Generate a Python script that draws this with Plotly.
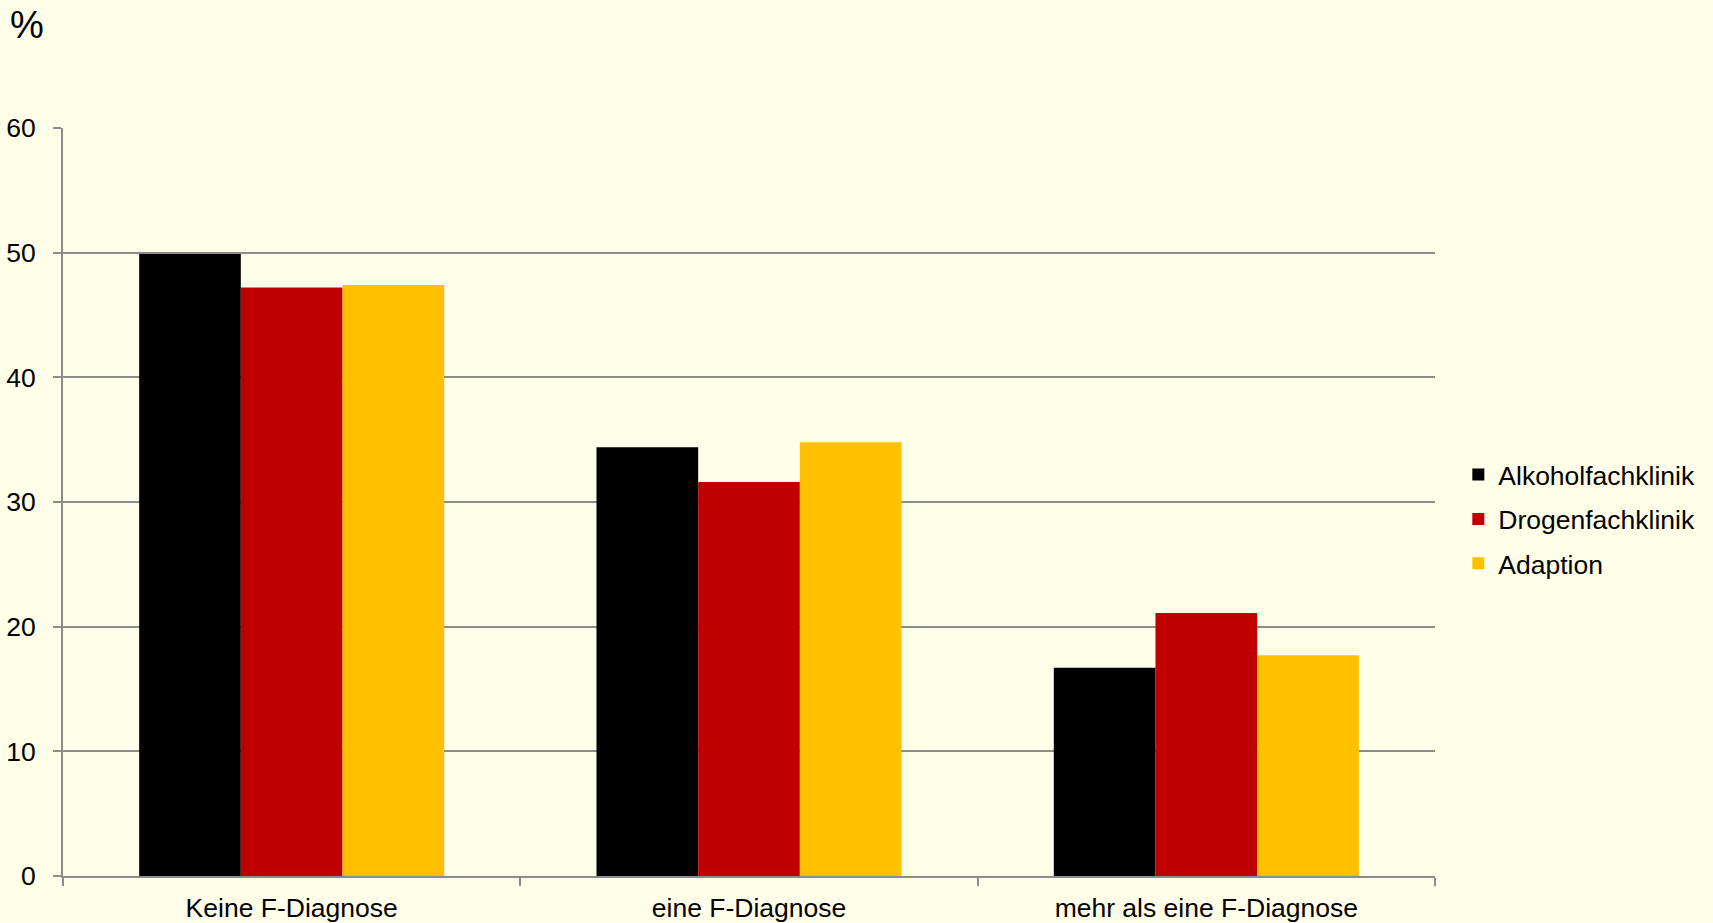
import plotly.graph_objects as go

categories = ["Keine F-Diagnose", "eine F-Diagnose", "mehr als eine F-Diagnose"]
series_names = ["Alkoholfachklinik", "Drogenfachklinik", "Adaption"]
alkohol = [49.9, 34.4, 16.7]
drogen = [47.2, 31.6, 21.1]
adaption = [47.4, 34.8, 17.7]
colors = ["#000000", "#C00000", "#FFC000"]
y_ticks = [0, 10, 20, 30, 40, 50, 60]

W, H = 1713, 923
L, R, T, B = 63, 1435, 127.5, 876

fig = go.Figure()
for i, (name, vals) in enumerate(zip(series_names, [alkohol, drogen, adaption])):
    fig.add_trace(go.Bar(x=categories, y=vals, name=name, marker_color=colors[i],
                         marker_line_width=0, legendgroup=name))

bg = "#FFFEE8"
fig.update_layout(
    width=W, height=H,
    margin=dict(l=L, r=W - R, t=T, b=H - B, pad=0, autoexpand=False),
    paper_bgcolor=bg, plot_bgcolor=bg,
    font=dict(family="Liberation Sans, Arial, sans-serif", size=26.5, color="#000000"),
    barmode="group", bargap=0.333, bargroupgap=0,
    showlegend=True,
    legend=dict(x=1.017, xanchor="left", y=(B - 519) / (B - T), yanchor="middle",
                traceorder="grouped", tracegroupgap=7,
                font=dict(size=26.5), bgcolor="rgba(0,0,0,0)"),
    xaxis=dict(showgrid=False, showline=True, linecolor="#8C8C8C", linewidth=2,
               ticks="outside", tickson="boundaries", ticklen=8, tickcolor="#8C8C8C",
               tickwidth=2, tickfont=dict(size=26.5), ticklabelstandoff=7, automargin=False),
    yaxis=dict(range=[0, 60], tickvals=y_ticks, showgrid=True, gridcolor="#8C8C8C",
               gridwidth=1.5, showline=True, linecolor="#8C8C8C", linewidth=2,
               ticks="outside", ticklen=8, tickcolor="#8C8C8C", tickwidth=2,
               tickfont=dict(size=26.5), zeroline=False, ticklabelstandoff=12,
               automargin=False),
    annotations=[dict(text="%", xref="paper", yref="paper",
                      x=(27 - L) / (R - L), y=(B - 24) / (B - T),
                      xanchor="center", yanchor="middle", showarrow=False,
                      font=dict(size=38))],
)

fig.write_html("out.html")
